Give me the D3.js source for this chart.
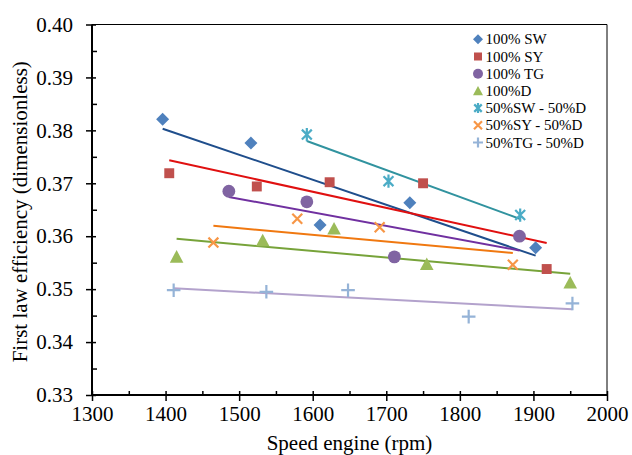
<!DOCTYPE html>
<html>
<head>
<meta charset="utf-8">
<script src="https://cdn.jsdelivr.net/npm/d3@7"></script>
<style>
  html, body { margin: 0; padding: 0; background: #fff; }
  svg { display: block; }
  svg text { font-family: "Liberation Serif", "Times New Roman", serif !important; fill: #000; }
</style>
</head>
<body>
<svg id="chart" width="632" height="455"></svg>
<script>
// ---- data ----
const seriesNames = ["100% SW", "100% SY", "100% TG", "100%D", "50%SW - 50%D", "50%SY - 50%D", "50%TG - 50%D"];

const swX = [1396, 1516, 1610, 1732, 1903];
const swY = [0.3821, 0.3776, 0.3621, 0.3663, 0.3578];

const syX = [1405, 1524, 1623, 1750, 1918];
const syY = [0.3719, 0.3694, 0.3702, 0.3700, 0.3538];

const tgX = [1486, 1592, 1711, 1881];
const tgY = [0.3685, 0.3665, 0.3561, 0.3600];

const dX = [1415, 1532, 1629, 1755, 1950];
const dY = [0.3561, 0.3592, 0.3614, 0.3547, 0.3512];

const swdX = [1592, 1703, 1882];
const swdY = [0.3792, 0.3704, 0.3640];

const sydX = [1465, 1579, 1691, 1872];
const sydY = [0.3588, 0.3633, 0.3617, 0.3546];

const tgdX = [1411, 1537, 1648, 1812, 1953];
const tgdY = [0.3498, 0.3495, 0.3498, 0.3448, 0.3473];

const xTicks = [1300, 1400, 1500, 1600, 1700, 1800, 1900, 2000];
const yTicks = [0.33, 0.34, 0.35, 0.36, 0.37, 0.38, 0.39, 0.40];

const markerColors = ["#4F81BD", "#C0504D", "#8064A2", "#9BBB59", "#4BACC6", "#F79646", "#95B3D7"];
const trendColors  = ["#1F4E8C", "#E01010", "#7030A0", "#77A33A", "#31939F", "#F07810", "#B3A2CC"];
const markerTypes  = ["diamond", "square", "circle", "triangle", "star", "x", "plus"];

const allX = [swX, syX, tgX, dX, swdX, sydX, tgdX];
const allY = [swY, syY, tgY, dY, swdY, sydY, tgdY];

const FONT = '"Liberation Serif", "Times New Roman", serif';

// ---- layout ----
const svg = d3.select("#chart");
const L = 92, R = 607, T = 24.5, B = 395;
const x = d3.scaleLinear().domain([1300, 2000]).range([L, R]);
const y = d3.scaleLinear().domain([0.33, 0.40]).range([B, T]);

// frame top & right
svg.append("line").attr("x1", L).attr("x2", R).attr("y1", T).attr("y2", T).attr("stroke", "#000").attr("stroke-width", 1);
svg.append("line").attr("x1", R).attr("x2", R).attr("y1", T).attr("y2", B).attr("stroke", "#000").attr("stroke-width", 1);

// x axis
const xAxis = svg.append("g").attr("transform", `translate(0,${B})`)
  .call(d3.axisBottom(x).tickValues(xTicks).tickSize(6).tickPadding(5).tickFormat(d3.format("d")));
xAxis.attr("font-family", FONT);
xAxis.select(".domain").attr("stroke-width", 2).attr("d", `M${L},0H${R}`);
xAxis.selectAll(".tick line").attr("stroke-width", 1.5).attr("y1", -4);
xAxis.selectAll("text").style("font-size", "21px").style("font-family", FONT).attr("fill", "#000");
// x minor ticks (inside)
svg.append("g").attr("transform", `translate(0,${B})`)
  .call(d3.axisBottom(x).tickValues(d3.range(1350, 2000, 100)).tickSize(-4).tickFormat(""))
  .call(g => g.select(".domain").remove())
  .selectAll("line").attr("stroke-width", 1.5);

// y axis
const yAxis = svg.append("g").attr("transform", `translate(${L},0)`)
  .call(d3.axisLeft(y).tickValues(yTicks).tickSize(6).tickPadding(13).tickFormat(d3.format(".2f")));
yAxis.attr("font-family", FONT);
yAxis.select(".domain").attr("stroke-width", 2).attr("d", `M0,${B}V${T}`);
yAxis.selectAll(".tick line").attr("stroke-width", 1.5).attr("x1", 4);
yAxis.selectAll("text").style("font-size", "21px").style("font-family", FONT).attr("fill", "#000");
svg.append("g").attr("transform", `translate(${L},0)`)
  .call(d3.axisLeft(y).tickValues(d3.range(0.335, 0.40, 0.01)).tickSize(-5).tickFormat(""))
  .call(g => g.select(".domain").remove())
  .selectAll("line").attr("stroke-width", 1.5);

// axis titles
svg.append("text").attr("x", (L + R) / 2).attr("y", 450).attr("text-anchor", "middle")
  .style("font-size", "21px").style("font-family", FONT).text("Speed engine (rpm)");
svg.append("text").attr("transform", `translate(27,${(T + B) / 2 + 2}) rotate(-90)`).attr("text-anchor", "middle")
  .style("font-size", "21px").style("font-family", FONT).text("First law efficiency (dimensionless)");

// marker drawing
function marker(g, type, color, s) {
  switch (type) {
    case "diamond":
      g.append("path").attr("d", `M0,${-s}L${s},0L0,${s}L${-s},0Z`).attr("fill", color); break;
    case "square":
      g.append("rect").attr("x", -s * 0.8).attr("y", -s * 0.8).attr("width", s * 1.6).attr("height", s * 1.6).attr("fill", color); break;
    case "circle":
      g.append("circle").attr("r", s).attr("fill", color); break;
    case "triangle":
      g.append("path").attr("d", `M0,${-s}L${s},${s * 0.85}L${-s},${s * 0.85}Z`).attr("fill", color); break;
    case "star": {
      const a = s * 0.75;
      g.append("path").attr("d", `M${-a},${-a}L${a},${a}M${-a},${a}L${a},${-a}M0,${-s}V${s}`)
        .attr("stroke", color).attr("stroke-width", 2.2).attr("fill", "none"); break;
    }
    case "x": {
      const a = s * 0.8;
      g.append("path").attr("d", `M${-a},${-a}L${a},${a}M${-a},${a}L${a},${-a}`)
        .attr("stroke", color).attr("stroke-width", 2.2).attr("fill", "none"); break;
    }
    case "plus":
      g.append("path").attr("d", `M${-s},0H${s}M0,${-s}V${s}`)
        .attr("stroke", color).attr("stroke-width", 2.2).attr("fill", "none"); break;
  }
}

// trend lines (least squares, drawn over data range)
const plot = svg.append("g");
const lineGen = d3.line().x(d => x(d[0])).y(d => y(d[1]));
const markerSize = [6.5, 6.2, 6.4, 6.8, 6.6, 6.2, 6.8];
seriesNames.forEach((name, i) => {
  const xs = allX[i], ys = allY[i];
  const mx = d3.mean(xs), my = d3.mean(ys);
  const slope = d3.sum(xs, (v, k) => (v - mx) * (ys[k] - my)) / d3.sum(xs, v => (v - mx) ** 2);
  const x0 = d3.min(xs), x1 = d3.max(xs);
  plot.append("path")
    .datum([[x0, my + slope * (x0 - mx)], [x1, my + slope * (x1 - mx)]])
    .attr("d", lineGen).attr("stroke", trendColors[i]).attr("stroke-width", 2).attr("fill", "none");
});
seriesNames.forEach((name, i) => {
  allX[i].forEach((xv, k) => {
    const g = plot.append("g").attr("transform", `translate(${x(xv)},${y(allY[i][k])})`);
    marker(g, markerTypes[i], markerColors[i], markerSize[i]);
  });
});

// legend
const leg = svg.append("g");
seriesNames.forEach((name, i) => {
  const cy = 39.3 + i * 17.2;
  const g = leg.append("g").attr("transform", `translate(478,${cy})`);
  marker(g, markerTypes[i], markerColors[i], 5);
  leg.append("text").attr("x", 485.5).attr("y", cy + 5).style("font-size", "15px").style("font-family", FONT).text(name);
});
</script>
</body>
</html>
